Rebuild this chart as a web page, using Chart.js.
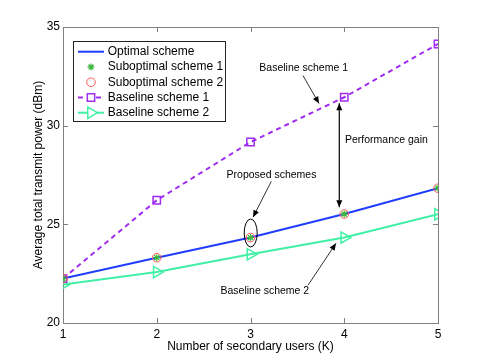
<!DOCTYPE html>
<html>
<head>
<meta charset="utf-8">
<script src="https://cdn.jsdelivr.net/npm/chart.js@4/dist/chart.umd.min.js"></script>
<style>
html,body{margin:0;padding:0;background:#fff}
#wrap{width:485px;height:363px}
</style>
</head>
<body>
<div id="wrap"><canvas id="c" width="485" height="363"></canvas></div>
<script>
// data
const users=[1,2,3,4,5];
const optimal=[22.25,23.31,24.33,25.52,26.83];
const subopt1=[22.25,23.31,24.33,25.52,26.83];
const subopt2=[22.25,23.31,24.33,25.52,26.83];
const baseline1=[22.25,26.22,29.17,31.44,34.14];
const baseline2=[21.95,22.58,23.48,24.33,25.51];
const xTicks=[1,2,3,4,5];
const yTicks=[20,25,30,35];

const FONT='"Liberation Sans", Arial, Helvetica, sans-serif';
const BLUE='#1f3cff',GREEN='#3cb83c',RED='#ff5a5a',PURPLE='#a02cf0',AQUA='#40f0a4';

const pts=arr=>users.map((u,i)=>({x:u,y:arr[i]}));

const datasets=[
{label:'Optimal scheme',data:pts(optimal),borderColor:BLUE,borderWidth:2,pointRadius:0,order:2},
{label:'Suboptimal scheme 1',data:pts(subopt1),showLine:false,pointStyle:'star',pointRadius:3.5,pointBorderWidth:1.2,pointBorderColor:GREEN,pointBackgroundColor:'rgba(0,0,0,0)',order:0},
{label:'Suboptimal scheme 2',data:pts(subopt2),showLine:false,pointStyle:'circle',pointRadius:4.3,pointBorderWidth:1,pointBorderColor:RED,pointBackgroundColor:'rgba(0,0,0,0)',order:1},
{label:'Baseline scheme 1',data:pts(baseline1),borderColor:PURPLE,borderWidth:2,borderDash:[5,4],pointStyle:'rect',pointRadius:5.2,pointBorderWidth:1.5,pointBorderColor:PURPLE,pointBackgroundColor:'rgba(0,0,0,0)',order:3},
{label:'Baseline scheme 2',data:pts(baseline2),borderColor:AQUA,borderWidth:2,pointStyle:'triangle',pointRotation:90,pointRadius:6.5,pointBorderWidth:1.5,pointBorderColor:AQUA,pointBackgroundColor:'rgba(0,0,0,0)',order:4}
];

// matlab style box with ticks pointing inward
const framePlugin={
id:'frame',
beforeDatasetsDraw(chart){
const {ctx,chartArea:a,scales:{x,y}}=chart;
ctx.save();
ctx.strokeStyle='#808080';ctx.lineWidth=1;
ctx.strokeRect(Math.round(a.left)+0.5,Math.round(a.top)+0.5,Math.round(a.right-a.left),Math.round(a.bottom-a.top));
ctx.beginPath();
xTicks.forEach(v=>{const p=Math.round(x.getPixelForValue(v))+0.5;
ctx.moveTo(p,a.bottom);ctx.lineTo(p,a.bottom-5);ctx.moveTo(p,a.top);ctx.lineTo(p,a.top+5);});
yTicks.forEach(v=>{const p=Math.round(y.getPixelForValue(v))+0.5;
ctx.moveTo(a.left,p);ctx.lineTo(a.left+5,p);ctx.moveTo(a.right,p);ctx.lineTo(a.right-5,p);});
ctx.stroke();
ctx.restore();
}
};

function arrowHead(ctx,x1,y1,x2,y2){
const ang=Math.atan2(y2-y1,x2-x1),L=7,W=3;
ctx.beginPath();
ctx.moveTo(x2,y2);
ctx.lineTo(x2-L*Math.cos(ang)+W*Math.sin(ang),y2-L*Math.sin(ang)-W*Math.cos(ang));
ctx.lineTo(x2-L*Math.cos(ang)-W*Math.sin(ang),y2-L*Math.sin(ang)+W*Math.cos(ang));
ctx.closePath();ctx.fill();
}
function arrow(ctx,x1,y1,x2,y2,both){
ctx.beginPath();ctx.moveTo(x1,y1);ctx.lineTo(x2,y2);ctx.stroke();
arrowHead(ctx,x1,y1,x2,y2);
if(both)arrowHead(ctx,x2,y2,x1,y1);
}

const notePlugin={
id:'notes',
afterDatasetsDraw(chart){
const {ctx,scales:{x,y}}=chart;
const X=v=>x.getPixelForValue(v),Y=v=>y.getPixelForValue(v);
ctx.save();
ctx.fillStyle='#000';ctx.strokeStyle='#000';
ctx.font='10.5px '+FONT;ctx.textBaseline='middle';
ctx.textAlign='center';
ctx.fillText('Baseline scheme 1',X(3.567),Y(32.94));
ctx.fillText('Proposed schemes',X(3.224),Y(27.49));
ctx.fillText('Baseline scheme 2',X(3.153),Y(21.61));
ctx.textAlign='left';
ctx.fillText('Performance gain',X(4.008),Y(29.26));
ctx.lineWidth=0.8;
arrow(ctx,X(3.56),Y(32.54),X(3.731),Y(31.12));
arrow(ctx,X(3.222),Y(27.18),X(3.027),Y(25.36));
arrow(ctx,X(3.613),Y(21.91),X(3.912),Y(24.04));
ctx.lineWidth=1.2;
arrow(ctx,X(3.947),Y(31.14),X(3.947),Y(25.86),true);
ctx.lineWidth=1;
ctx.beginPath();
ctx.ellipse(X(3.002),Y(24.56),6.5,14,0,0,Math.PI*2);
ctx.stroke();
ctx.restore();
}
};

const legendPlugin={
id:'boxLegend',
afterDraw(chart){
const ctx=chart.ctx;
const bx=73.5,by=41.5,bw=152,bh=80;
ctx.save();
ctx.fillStyle='#fff';ctx.fillRect(bx,by,bw,bh);
ctx.strokeStyle='#222';ctx.lineWidth=1;ctx.strokeRect(bx,by,bw,bh);
ctx.font='12px '+FONT;ctx.textBaseline='middle';ctx.textAlign='left';
datasets.forEach((ds,i)=>{
const yy=51.7+15.25*i;
if(ds.showLine!==false){
ctx.strokeStyle=ds.borderColor;ctx.lineWidth=ds.borderWidth;
ctx.setLineDash(ds.borderDash||[]);
ctx.beginPath();ctx.moveTo(78,yy);ctx.lineTo(104,yy);ctx.stroke();
ctx.setLineDash([]);
}
if(ds.pointRadius>0){
ctx.strokeStyle=ds.pointBorderColor;ctx.fillStyle='#fff';ctx.lineWidth=ds.pointBorderWidth;
Chart.helpers.drawPoint(ctx,{pointStyle:ds.pointStyle,rotation:ds.pointRotation||0,radius:ds.pointRadius,borderWidth:ds.pointBorderWidth},91,yy);
}
ctx.fillStyle='#000';
ctx.fillText(ds.label,107.7,yy);
});
ctx.restore();
}
};

new Chart(document.getElementById('c'),{
type:'line',
data:{datasets},
options:{
responsive:false,animation:false,
layout:{padding:{top:27,right:47,left:0,bottom:0}},
plugins:{legend:{display:false},tooltip:{enabled:false}},
scales:{
x:{type:'linear',min:1,max:5,
afterBuildTicks:s=>{s.ticks=xTicks.map(v=>({value:v}));},
afterFit:s=>{s.height=40;},
grid:{display:false,drawTicks:false},border:{display:false},
ticks:{color:'#000',padding:4,font:{family:FONT,size:12},maxRotation:0},
title:{display:true,text:'Number of secondary users (K)',color:'#000',font:{family:FONT,size:12},padding:{top:0,bottom:9}}},
y:{type:'linear',min:20,max:35,
afterBuildTicks:s=>{s.ticks=yTicks.map(v=>({value:v}));},
afterFit:s=>{s.width=63;},
grid:{display:false,drawTicks:false},border:{display:false},
ticks:{color:'#000',padding:3,font:{family:FONT,size:12}},
title:{display:true,text:'Average total transmit power (dBm)',color:'#000',font:{family:FONT,size:12},padding:{top:31,bottom:0}}}
}
},
plugins:[framePlugin,notePlugin,legendPlugin]
});
</script>
</body>
</html>
